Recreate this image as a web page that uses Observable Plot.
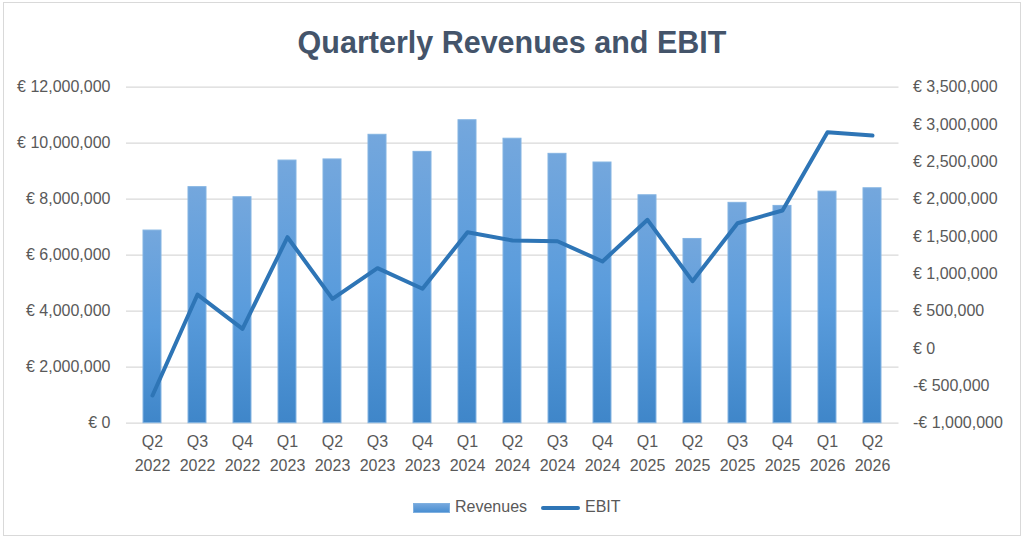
<!DOCTYPE html>
<html><head><meta charset="utf-8">
<script src="https://cdn.jsdelivr.net/npm/d3@7"></script>
<script src="https://cdn.jsdelivr.net/npm/@observablehq/plot@0.6"></script>
<style>
html,body{margin:0;padding:0;background:#fff;}
#frame{position:absolute;left:3px;top:2px;width:1016px;height:532px;border:1px solid #d9d9d9;}
#title{position:absolute;left:0;top:25px;width:1024px;text-align:center;font:bold 30.5px "Liberation Sans",sans-serif;color:#44546A;}
#chart{position:absolute;left:0;top:70px;}
#legend{position:absolute;top:498px;left:0;width:1024px;font:16px "Liberation Sans",sans-serif;color:#595959;}
.sw{position:absolute;}
</style></head>
<body>
<div id="frame"></div>
<div id="title">Quarterly Revenues and EBIT</div>
<div id="chart"></div>
<div id="legend">
  <div class="sw" style="left:413px;top:5px;width:37px;height:10px;background:linear-gradient(#74a7dd,#4a8fd2);border:1px solid #7fb0e0;box-sizing:border-box;"></div>
  <div class="sw" style="left:455px;top:0px;">Revenues</div>
  <div class="sw" style="left:541px;top:8px;width:39px;height:4px;background:#2e75b6;border-radius:2px;"></div>
  <div class="sw" style="left:585px;top:0px;">EBIT</div>
</div>
<script>
const quarters = ["Q2 2022","Q3 2022","Q4 2022","Q1 2023","Q2 2023","Q3 2023","Q4 2023","Q1 2024","Q2 2024","Q3 2024","Q4 2024","Q1 2025","Q2 2025","Q3 2025","Q4 2025","Q1 2026","Q2 2026"];
const revenues = [6880000,8430000,8070000,9380000,9420000,10300000,9690000,10820000,10160000,9620000,9310000,8140000,6580000,7870000,7760000,8270000,8390000];
const ebit = [-629000,723000,264000,1491000,666000,1076000,800000,1558000,1447000,1437000,1166000,1724000,902000,1678000,1849000,2897000,2853000];
const leftTicks = [0,2000000,4000000,6000000,8000000,10000000,12000000];
const rightTicks = [-1000000,-500000,0,500000,1000000,1500000,2000000,2500000,3000000,3500000];

const leftMax = 12000000, rMin = -1000000, rMax = 3500000;
const toLeft = v => (v - rMin) / (rMax - rMin) * leftMax;
const fromLeft = v => v / leftMax * (rMax - rMin) + rMin;
const eur = v => (v < 0 ? "-€ " : "€ ") + d3.format(",")(Math.abs(Math.round(v)));
const data = quarters.map((q, i) => ({q, rev: revenues[i], ebit: ebit[i]}));

const font = '"Liberation Sans",sans-serif';
const chart = Plot.plot({
  width: 1024, height: 420,
  marginTop: 16.7, marginBottom: 67.3, marginLeft: 126, marginRight: 125.5,
  style: {fontFamily: font, fontSize: "16px", color: "#595959", background: "transparent", overflow: "visible"},
  x: {type: "band", domain: quarters, paddingInner: 0.6, paddingOuter: 0.3, label: null},
  y: {domain: [0, leftMax], label: null},
  marks: [
    () => { const s = d3.create("svg:defs");
      const g = s.append("linearGradient").attr("id","barGrad").attr("x1",0).attr("y1",0).attr("x2",0).attr("y2",1);
      g.append("stop").attr("offset","0%").attr("stop-color","#74a7dd");
      g.append("stop").attr("offset","50%").attr("stop-color","#5a9cdc");
      g.append("stop").attr("offset","100%").attr("stop-color","#3f86c9");
      return s.node(); },
    Plot.gridY(leftTicks, {stroke: "#d9d9d9", strokeOpacity: 1, strokeWidth: 1.3}),
    Plot.axisY(leftTicks, {anchor: "left", tickSize: 0, tickPadding: 16, tickFormat: eur, label: null, fill: "#595959"}),
    Plot.axisY(rightTicks.map(toLeft), {anchor: "right", tickSize: 0, tickPadding: 14, tickFormat: d => eur(fromLeft(d)), label: null, fill: "#595959"}),
    Plot.axisX({tickSize: 0, tickPadding: 7, tickFormat: q => q.replace(" ", "\n"), label: null, fill: "#595959", lineHeight: 1.5}),
    Plot.barY(data, {x: "q", y: "rev", fill: "url(#barGrad)", stroke: "#84b4e2", strokeWidth: 1}),
    Plot.lineY(data, {x: "q", y: d => toLeft(d.ebit), stroke: "#2e75b6", strokeWidth: 4, strokeLinejoin: "round", strokeLinecap: "round"})
  ]
});
document.getElementById("chart").appendChild(chart);
</script>
</body></html>
